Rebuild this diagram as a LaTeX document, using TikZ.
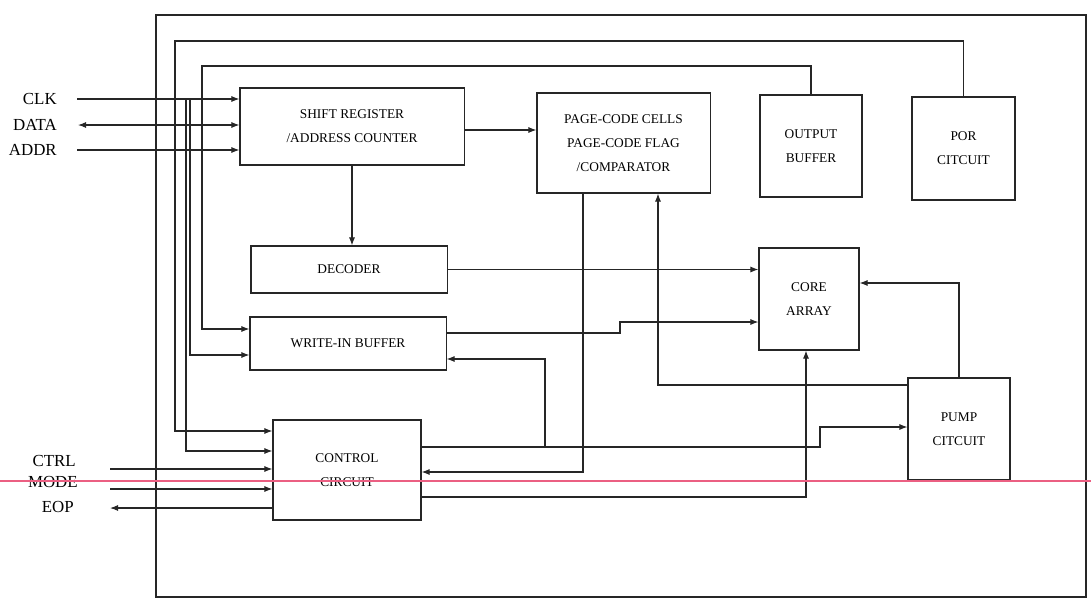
\documentclass[tikz,border=0pt]{standalone}
\usepackage{fontspec}
\setmainfont{Liberation Serif}
\usetikzlibrary{arrows.meta}

\definecolor{scanline}{RGB}{235,95,130}

\begin{document}
\begin{tikzpicture}[x=0.025cm, y=-0.025cm,
  wire/.style={line width=0.75pt, black!85},
  sig/.style={wire, -{Latex[length=2mm, width=1.5mm]}},
  bisig/.style={wire, {Latex[length=2mm, width=1.5mm]}-{Latex[length=2mm, width=1.5mm]}},
  block/.style={draw, line width=0.75pt, black!85, text=black, align=center, inner sep=0pt, font=\fontsize{9.5}{17}\selectfont},
  pin/.style={font=\fontsize{12}{14}\selectfont, anchor=east, inner sep=0pt}]

\useasboundingbox (0,0) rectangle (1091,606);

% chip outline
\draw[wire] (156,15) rectangle (1086,597);

% blocks
\node[block, minimum width=5.6cm, minimum height=1.925cm] (shift) at (352,126.5) {SHIFT\ REGISTER\\/ADDRESS\ COUNTER};
\node[block, minimum width=4.325cm, minimum height=2.5cm] (page) at (623.5,143) {PAGE-CODE\ CELLS\\PAGE-CODE\ FLAG\\/COMPARATOR};
\node[block, minimum width=2.55cm, minimum height=2.55cm] (outbuf) at (811,146) {OUTPUT\\BUFFER};
\node[block, minimum width=2.575cm, minimum height=2.575cm] (por) at (963.5,148.5) {POR\\CITCUIT};
\node[block, minimum width=4.9cm, minimum height=1.175cm] (dec) at (349,269.5) {DECODER};
\node[block, minimum width=4.9cm, minimum height=1.325cm] (wbuf) at (348,343.5) {WRITE-IN\ BUFFER};
\node[block, minimum width=3.7cm, minimum height=2.5cm] (ctrl) at (347,470) {CONTROL\\CIRCUIT};
\node[block, minimum width=2.5cm, minimum height=2.55cm] (core) at (809,299) {CORE\\ARRAY};
\node[block, minimum width=2.55cm, minimum height=2.55cm] (pump) at (959,429) {PUMP\\CITCUIT};

% pins
\node[pin] (clk) at (57,99) {CLK};
\node[pin] (data) at (57,125) {DATA};
\node[pin] (addr) at (57,150) {ADDR};
\node[pin] (ctl) at (76,461) {CTRL};
\node[pin] (mode) at (78,482) {MODE};
\node[pin] (eop) at (74,507) {EOP};

\coordinate (clkin) at (77,99); \coordinate (datain) at (78,125); \coordinate (addrin) at (77,150);
\coordinate (ctlin) at (110,469); \coordinate (modein) at (110,489); \coordinate (eopout) at (110,508);
\coordinate (tapa) at (186,99); \coordinate (tapb) at (190,99); \coordinate (split) at (545,447);

\draw[sig] (clkin) -- (clkin -| shift.west);
\draw[bisig] (datain) -- (datain -| shift.west);
\draw[sig] (addrin) -- (addrin -| shift.west);
\draw[sig] (ctlin) -- (ctlin -| ctrl.west);
\draw[sig] (modein) -- (modein -| ctrl.west);
\draw[sig] (eopout -| ctrl.west) -- (eopout);

% clock taps and feedback from POR / output buffer
\draw[sig] (tapa) |- (ctrl.west |- 0,451);
\draw[sig] (tapb) |- (wbuf.west |- 0,355);
\draw[sig] (por.north) |- (175,41) |- (ctrl.west |- 0,431);
\draw[sig] (outbuf.north) |- (202,66) |- (wbuf.west |- 0,329);

% internal paths
\draw[sig] (shift.east |- 0,130) -- (page.west |- 0,130);
\draw[sig] (shift.south) -- (shift.south |- dec.north);
\draw[sig] (dec.east) -- (dec.east -| core.west);
\draw[sig] (wbuf.east |- 0,333) -| (620,322) -- (core.west |- 0,322);
\draw[sig] (page.south -| 583,0) |- (ctrl.east |- 0,472);
\draw[sig] (pump.west |- 0,385) -| (page.south -| 658,0);
\draw[sig] (pump.north) |- (core.east |- 0,283);
\draw[sig] (ctrl.east |- 0,447) -| (820,427) -- (pump.west |- 0,427);
\draw[sig] (split) |- (wbuf.east |- 0,359);
\draw[sig] (ctrl.east |- 0,497) -| (core.south -| 806,0);

% scan mark
\draw[scanline, line width=1pt] (0,481) -- (1091,481);
\end{tikzpicture}
\end{document}
